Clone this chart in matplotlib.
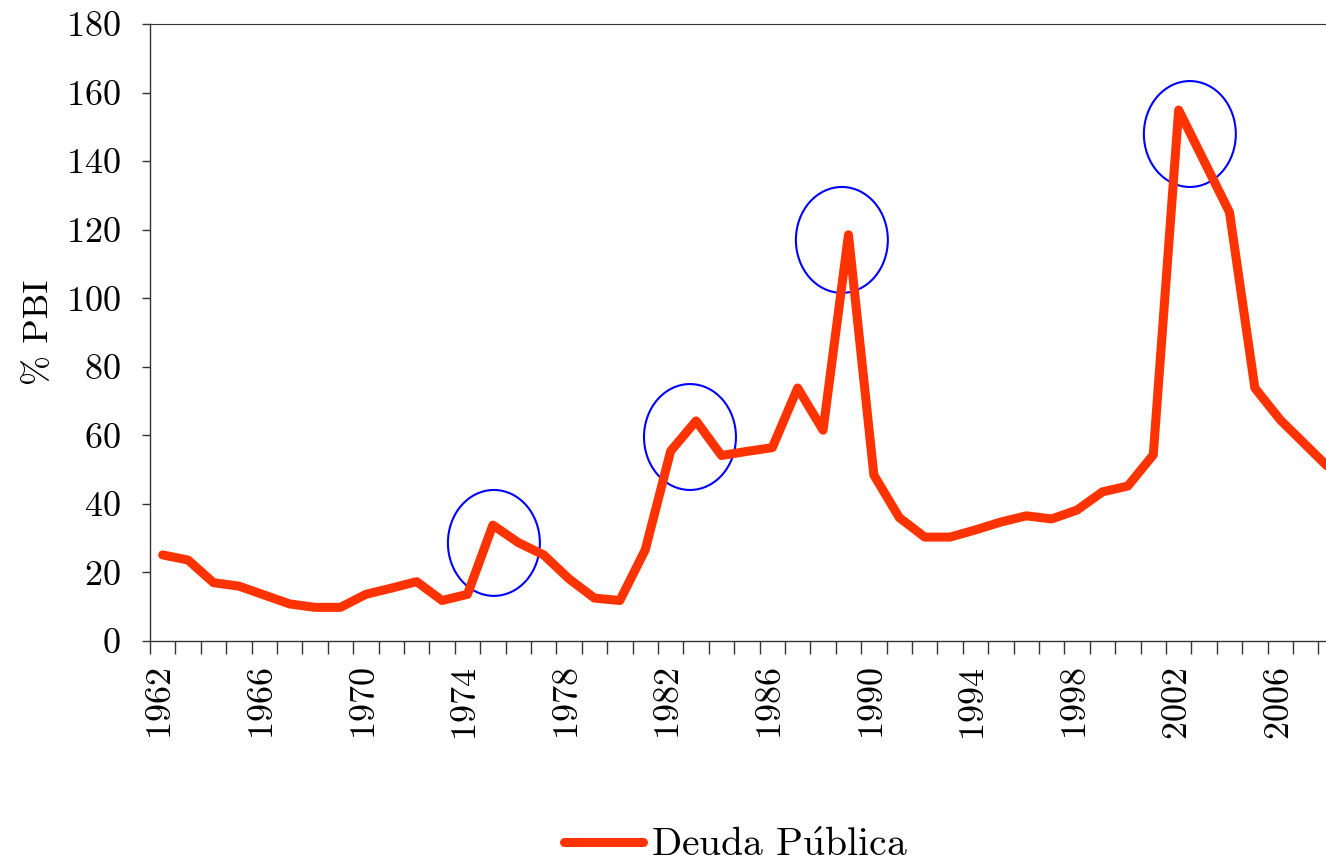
import matplotlib
matplotlib.use('Agg')
import matplotlib.pyplot as plt
from matplotlib.patches import Ellipse
import numpy as np

plt.rcParams['font.family'] = ['cmr10', 'DejaVu Serif']
plt.rcParams['mathtext.fontset'] = 'cm'
plt.rcParams['axes.formatter.use_mathtext'] = True

# Deuda publica (% PBI)
years = list(range(1962, 2009))
deuda = [25.1, 23.6, 17.0, 16.0, 13.4, 10.8, 9.8, 9.8, 13.6, 15.4,
         17.3, 11.8, 13.6, 33.8, 28.7, 25.1, 18.1, 12.5, 11.8, 26.6,
         55.4, 64.2, 54.1, 55.3, 56.4, 73.8, 61.5, 118.5, 48.4, 36.0,
         30.3, 30.3, 32.4, 34.7, 36.5, 35.6, 38.2, 43.5, 45.2, 54.3,
         154.9, 140.0, 125.1, 73.8, 64.5, 57.2, 49.9]

# highlighted episodes (center year, center value)
circle_x = [1975.04, 1982.76, 1988.74, 2002.44]
circle_y = [28.6, 59.5, 117.0, 147.9]

fig = plt.figure(figsize=(13.26, 8.63), dpi=100)
ax = fig.add_axes([0.1131, 0.2573, 0.9003, 0.7149])

line, = ax.plot(years, deuda, color='#ff3300', linewidth=6.5,
                solid_joinstyle='round', solid_capstyle='round',
                label=r'Deuda P$\acute{\mathrm{u}}$blica')
line.set_clip_on(False)

for cx, cy in zip(circle_x, circle_y):
    ax.add_patch(Ellipse((cx, cy), width=3.62, height=30.9, fill=False,
                         edgecolor='#0000ff', linewidth=1.5))

ax.set_xlim(1961.5, 2008.5)
ax.set_ylim(0, 180)
ax.set_yticks(np.arange(0, 181, 20))

ax.set_xticks(list(range(1962, 2009, 4)))
ax.set_xticks(np.arange(1961.5, 2009, 1), minor=True)
ax.tick_params(axis='x', which='major', length=0, pad=19, labelrotation=90, labelsize=26)
ax.tick_params(axis='x', which='minor', length=9, width=1, direction='out', color='#333333')
ax.tick_params(axis='y', length=6, width=1, pad=15, labelsize=26, color='#333333')

for s in ['left', 'bottom', 'top']:
    ax.spines[s].set_linewidth(1)
    ax.spines[s].set_color('#333333')
ax.spines['top'].set_linewidth(0.8)
ax.spines['right'].set_visible(False)

ax.set_ylabel('% PBI', fontsize=26, labelpad=8)

fig.legend(handles=[line], loc='center', bbox_to_anchor=(0.555, 0.02),
           frameon=False, fontsize=28.5, handlelength=2.0, handletextpad=0.2)

fig.savefig('out.png', dpi=100)
